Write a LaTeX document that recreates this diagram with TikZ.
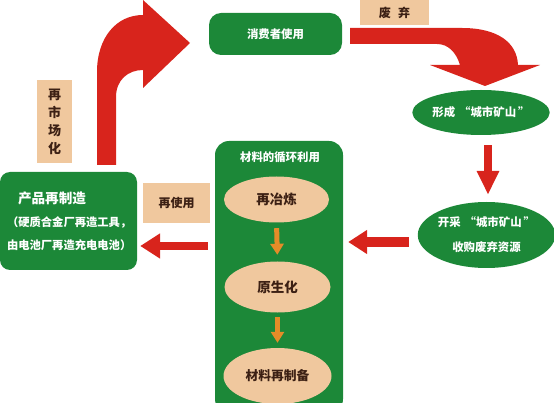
\documentclass[tikz,border=0pt]{standalone}
\usepackage{fontspec}
\setmainfont{Noto Sans CJK SC}
\usetikzlibrary{shapes.geometric,arrows.meta}
\definecolor{leafgreen}{RGB}{28,136,56}
\definecolor{arrowred}{RGB}{216,36,28}
\definecolor{sand}{RGB}{240,200,158}
\definecolor{ochre}{RGB}{228,140,40}
\definecolor{bark}{RGB}{60,32,20}

\begin{document}
\begin{tikzpicture}[x=1pt,y=-1pt,
  greenbox/.style={fill=leafgreen,rounded corners=12pt,text=white,font=\bfseries\fontsize{11.4}{14}\selectfont},
  greenoval/.style={ellipse,fill=leafgreen,text=white,inner sep=0pt,align=center,font=\bfseries\fontsize{11.4}{25}\selectfont},
  sandtag/.style={fill=sand,text=bark,inner sep=0pt,align=center,font=\bfseries\fontsize{12}{18}\selectfont},
  sandoval/.style={ellipse,fill=sand,text=bark,inner sep=0pt,font=\bfseries\fontsize{13.5}{16}\selectfont},
  redarrow/.style={draw=arrowred,line width=10pt,-{Triangle[width=23pt,length=19pt]},arrowred},
  orangearrow/.style={draw=ochre,line width=5pt,-{Triangle[width=13pt,length=11pt]},ochre}]

\useasboundingbox (0,0) rectangle (554,403);

\node[greenbox,minimum width=133pt,minimum height=42pt] (consume) at (275.5,34) {消费者使用};
\node[sandtag,minimum width=69pt,minimum height=25pt] (discard) at (394.5,12.5) {废\hspace{0.6em}弃};
\node[greenoval,minimum width=118pt,minimum height=45pt] (form) at (481,112.5) {形成\hspace{4pt}“城市矿山\hspace{2pt}”};
\node[greenoval,minimum width=135pt,minimum height=66pt] (mine) at (486.5,235) {开采\hspace{4pt}“城市矿山\hspace{2pt}”\\收购废弃资源};

\node[greenbox,rounded corners=14pt,minimum width=128pt,minimum height=272pt] (cycle) at (279,277) {};
\node[text=white,font=\bfseries\fontsize{11.4}{14}\selectfont] (cycletitle) at (280,157) {材料的循环利用};
\node[sandoval,minimum width=105pt,minimum height=46pt] (melt) at (276.5,199.5) {再冶炼};
\node[sandoval,minimum width=106pt,minimum height=51pt] (native) at (277.5,287) {原生化};
\node[sandoval,minimum width=108pt,minimum height=56pt,font=\bfseries\fontsize{12.8}{16}\selectfont] (remake) at (277.5,376) {材料再制备};

\node[greenbox,rounded corners=10pt,minimum height=98pt,text width=123pt,inner xsep=7pt,align=left,font=\bfseries\fontsize{11.3}{23}\selectfont] (product) at (68.5,221) {\hspace*{11pt}{\fontsize{13.6}{16}\selectfont 产品再制造}\\（硬质合金厂再造工具，\\由电池厂再造充电电池）};
\node[sandtag,minimum width=67pt,minimum height=40pt] (reuse) at (176.5,203) {再使用};
\node[sandtag,minimum width=35pt,minimum height=83pt,font=\bfseries\fontsize{13}{18}\selectfont] (remarket) at (54.5,121.5) {再\\市\\场\\化};

\fill[arrowred] (97,165) -- (97,72) .. controls (97,38) and (116,15) .. (143,15) -- (143,0) -- (190,43) -- (143,88) -- (143,70) .. controls (128,70) and (116,80) .. (116,97) -- (116,165) -- cycle;
\fill[arrowred] (350,28) -- (462,28) .. controls (497,28) and (517,42) .. (518,65) -- (540,65) -- (485,86) -- (430,65) -- (460,65) .. controls (456,52) and (448,44) .. (437,44) -- (350,44) -- cycle;

\coordinate (minetail) at ([yshift=-7pt]mine.west);
\coordinate (producttip) at ([yshift=-25pt]product.east);
\coordinate (formtail) at ([xshift=7pt]form.south);
\draw[redarrow,line width=8pt,-{Triangle[width=21pt,length=24pt]},shorten <=10pt,shorten >=7pt] (formtail) -- (formtail |- mine.north);
\draw[redarrow,shorten <=9pt,shorten >=5pt] (minetail) -- (minetail -| cycle.east);
\draw[redarrow,line width=8pt,-{Triangle[width=24pt,length=20pt]},shorten <=7pt,shorten >=3pt] (producttip -| cycle.west) -- (producttip);

\draw[orangearrow,shorten <=5.5pt,shorten >=6.5pt] (melt.south) -- (native.north);
\draw[orangearrow,shorten <=4.5pt,shorten >=5pt] (native.south) -- (remake.north);

\end{tikzpicture}
\end{document}
